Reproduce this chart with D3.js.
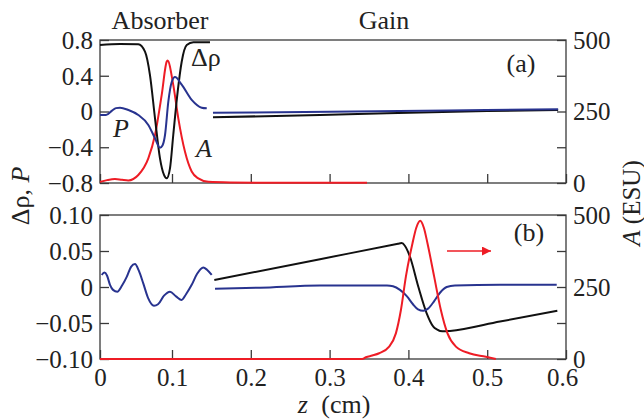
<!DOCTYPE html>
<html>
<head>
<meta charset="utf-8">
<script src="https://cdn.jsdelivr.net/npm/d3@7"></script>
<style>
  html, body { margin: 0; padding: 0; background: #fff; }
  svg { display: block; }
</style>
</head>
<body>
<div id="chart"></div>
<script>
// z in cm
// panel (a): absorber section (0 .. ~0.15)
const aRhoAbs = [[0,0.744],[0.0278,0.755],[0.0532,0.752],[0.0625,0.669],[0.0694,0.408],[0.0764,-0.076],[0.0833,-0.524],[0.0889,-0.71],[0.0926,-0.747],[0.0972,-0.636],[0.1016,-0.263],[0.1072,0.222],[0.1123,0.557],[0.1187,0.744],[0.1271,0.774],[0.1482,0.775]];
const aPAbs = [[0,-0.039],[0.0083,-0.04],[0.0167,0.01],[0.0222,0.038],[0.0278,0.043],[0.0393,0.017],[0.0532,-0.039],[0.0671,-0.15],[0.0764,-0.30],[0.0833,-0.405],[0.0868,-0.38],[0.0903,-0.263],[0.0949,0.11],[0.0996,0.33],[0.1038,0.385],[0.1123,0.30],[0.125,0.13],[0.1377,0.043],[0.1441,0.036]];
// panel (a): gain section
const aRhoGain = [[0.152,-0.065],[0.2878,-0.039],[0.3728,-0.02],[0.4997,0.005],[0.59,0.017]];
const aPGain = [[0.152,-0.013],[0.30,-0.004],[0.45,0.012],[0.59,0.025]];
// panel (a): field amplitude A (ESU)
const aA = [[0,4],[0.0097,10],[0.0208,14],[0.0306,11],[0.0393,9],[0.0532,28],[0.0671,86],[0.0764,168],[0.0857,308],[0.0926,424],[0.0938,428],[0.1016,343],[0.108,226],[0.1165,109],[0.125,40],[0.1334,16],[0.1461,4],[0.1736,2],[0.2371,1],[0.3475,1]];

// panel (b)
const bPAbs = [[0.0024,0.0167],[0.006,0.02],[0.0097,0.016],[0.0139,0.003],[0.0181,-0.004],[0.024,-0.0065],[0.0306,0.002],[0.0371,0.014],[0.0431,0.028],[0.0486,0.032],[0.0542,0.022],[0.0601,0.005],[0.0667,-0.015],[0.075,-0.026],[0.0806,-0.024],[0.0889,-0.012],[0.0972,-0.0065],[0.1051,-0.013],[0.1123,-0.018],[0.1178,-0.01],[0.125,0.003],[0.1317,0.018],[0.1397,0.027],[0.1444,0.024],[0.1504,0.0167]];
const bPGain = [[0.1546,-0.0023],[0.2117,-0.001],[0.2878,0.002],[0.3728,0.002],[0.3805,0.001],[0.3893,-0.004],[0.3982,-0.013],[0.4058,-0.024],[0.4122,-0.031],[0.4189,-0.033],[0.4249,-0.03],[0.4325,-0.02],[0.4401,-0.008],[0.4486,0],[0.4591,0.002],[0.5162,0.003],[0.5882,0.003]];
const bRhoGain = [[0.1537,0.0097],[0.2878,0.0386],[0.3868,0.060],[0.3915,0.061],[0.3957,0.057],[0.402,0.042],[0.4126,0.0004],[0.4232,-0.0365],[0.4316,-0.055],[0.4363,-0.059],[0.4401,-0.061],[0.4464,-0.0615],[0.4528,-0.061],[0.5162,-0.048],[0.589,-0.033]];
const bA = [[0,0],[0.3414,0],[0.3461,6],[0.3541,12],[0.3629,20],[0.3756,43],[0.3841,89],[0.3905,170],[0.3968,286],[0.4052,402],[0.4099,455],[0.415,480],[0.4197,455],[0.4242,402],[0.4327,286],[0.4412,170],[0.4496,89],[0.4603,43],[0.4772,20],[0.4983,8],[0.511,0]];

const zTicks = [0, 0.1, 0.2, 0.3, 0.4, 0.5, 0.6];
const aLeftTicks = [0.8, 0.4, 0, -0.4, -0.8];
const bLeftTicks = [0.1, 0.05, 0, -0.05, -0.1];
const rightTicks = [0, 125, 250, 375, 500];
const rightLabels = [0, 250, 500];

const W = 644, H = 419;
const col = { rho: '#111111', P: '#28338f', A: '#ee1c25', frame: '#3a3a3a' };
const fs = 25;
const serif = "'Liberation Serif', 'Times New Roman', serif";

const svg = d3.select('#chart').append('svg')
  .attr('width', W).attr('height', H)
  .attr('viewBox', `0 0 ${W} ${H}`)
  .style('font-family', serif);

svg.append('rect').attr('width', W).attr('height', H).attr('fill', '#fff');

// the original axis is slightly compressed before 0.1
const x = d3.scaleLinear().domain([0, 0.1, 0.6]).range([100, 172, 566]);

const minus = s => s.replace('-', '\u2212');
const fmtA = d => d === 0 ? '0' : minus(d3.format('.1f')(d));
const fmtB = d => d === 0 ? '0' : minus(d3.format('.2f')(d));

const styleAxis = s => {
  s.attr('font-family', null).attr('font-size', null);
  s.select('.domain').remove();
  s.selectAll('line').attr('stroke', col.frame).attr('stroke-width', 1.3);
  s.selectAll('text').attr('font-size', fs).attr('fill', '#222').style('font-family', serif);
};

function panel(top, bottom, leftDomain, leftTicks, fmt, showX) {
  const yL = d3.scaleLinear().domain(leftDomain).range([bottom, top]);
  const yR = d3.scaleLinear().domain([0, 500]).range([bottom, top]);
  const g = svg.append('g');

  // left ticks
  g.append('g')
    .attr('transform', `translate(${x(0)},0)`)
    .call(d3.axisLeft(yL).tickValues(leftTicks).tickSize(-9).tickSizeOuter(0).tickFormat(fmt))
    .call(styleAxis)
    .call(s => s.selectAll('text').attr('x', -7).attr('dy', '0.33em'));

  // right ticks
  g.append('g')
    .attr('transform', `translate(${x(0.6)},0)`)
    .call(d3.axisRight(yR).tickValues(rightTicks).tickSize(-9).tickSizeOuter(0)
      .tickFormat(d => rightLabels.includes(d) ? d : ''))
    .call(styleAxis)
    .call(s => s.selectAll('text').attr('x', 7).attr('dy', '0.33em'));

  // bottom ticks
  g.append('g')
    .attr('transform', `translate(0,${bottom})`)
    .call(d3.axisBottom(x).tickValues(zTicks).tickSize(-9).tickSizeOuter(0)
      .tickFormat(showX ? d => d === 0 ? '0' : d3.format('.1f')(d) : ''))
    .call(styleAxis)
    .call(s => s.selectAll('text').attr('y', 27).attr('dy', null)
      .attr('x', d => d === 0.6 ? -4 : 0));

  // frame
  g.append('rect')
    .attr('x', x(0)).attr('y', top)
    .attr('width', x(0.6) - x(0)).attr('height', bottom - top)
    .attr('fill', 'none').attr('stroke', col.frame).attr('stroke-width', 1.3);

  return { yL, yR, g };
}

const pa = panel(40, 183, [-0.8, 0.8], aLeftTicks, fmtA, false);
const pb = panel(215, 359, [-0.1, 0.1], bLeftTicks, fmtB, true);

function curve(p, data, scale, color) {
  const line = d3.line()
    .x(d => x(d[0]))
    .y(d => p[scale](d[1]))
    .curve(d3.curveMonotoneX);
  svg.append('path')
    .datum(data)
    .attr('d', line)
    .attr('fill', 'none')
    .attr('stroke', color)
    .attr('stroke-width', 2)
    .attr('stroke-linejoin', 'round');
}

curve(pa, aA, 'yR', col.A);
curve(pa, aRhoAbs, 'yL', col.rho);
curve(pa, aRhoGain, 'yL', col.rho);
curve(pa, aPAbs, 'yL', col.P);
curve(pa, aPGain, 'yL', col.P);

curve(pb, bRhoGain, 'yL', col.rho);
curve(pb, bPAbs, 'yL', col.P);
curve(pb, bPGain, 'yL', col.P);
curve(pb, bA, 'yR', col.A);

// text
const txt = (tx, ty, s, opts = {}) => {
  const t = svg.append('text')
    .attr('x', tx).attr('y', ty)
    .attr('font-size', opts.size || 26)
    .style('font-family', serif)
    .attr('fill', '#222')
    .attr('text-anchor', opts.anchor || 'start')
    .text(s);
  if (opts.italic) t.attr('font-style', 'italic');
  return t;
};

txt(160, 29, 'Absorber', { anchor: 'middle' });
txt(384, 29, 'Gain', { anchor: 'middle' });
txt(521, 72, '(a)', { anchor: 'middle' });
txt(529, 241, '(b)', { anchor: 'middle' });
txt(191, 66, '\u0394\u03c1');
txt(196, 157, 'A', { italic: true });
txt(113, 137, 'P', { italic: true });

// arrow in (b)
svg.append('defs').append('marker')
  .attr('id', 'arr')
  .attr('viewBox', '0 -5 10 10')
  .attr('refX', 10).attr('refY', 0)
  .attr('markerWidth', 16).attr('markerHeight', 9)
  .attr('markerUnits', 'userSpaceOnUse')
  .attr('orient', 'auto')
  .append('path')
  .attr('d', 'M0,-5L10,0L0,5Z')
  .attr('fill', col.A);
svg.append('line')
  .attr('x1', 447).attr('y1', 251).attr('x2', 491).attr('y2', 251)
  .attr('stroke', col.A).attr('stroke-width', 1.5)
  .attr('marker-end', 'url(#arr)');

// axis titles
const lt = svg.append('text')
  .attr('transform', 'translate(29,196) rotate(-90)')
  .attr('text-anchor', 'middle')
  .style('font-family', serif)
  .attr('font-size', 26).attr('fill', '#222');
lt.append('tspan').text('\u0394\u03c1,  ');
lt.append('tspan').attr('font-style', 'italic').text('P');

const rt = svg.append('text')
  .attr('transform', 'translate(640,203) rotate(-90)')
  .attr('text-anchor', 'middle')
  .style('font-family', serif)
  .attr('font-size', 25).attr('fill', '#222');
rt.append('tspan').attr('font-style', 'italic').text('A');
rt.append('tspan').text('  (ESU)');

const xt = svg.append('text')
  .attr('x', 334).attr('y', 413)
  .attr('text-anchor', 'middle')
  .style('font-family', serif)
  .attr('font-size', 26).attr('fill', '#222');
xt.append('tspan').attr('font-style', 'italic').text('z');
xt.append('tspan').attr('dx', 7).text(' (cm)');
</script>
</body>
</html>
